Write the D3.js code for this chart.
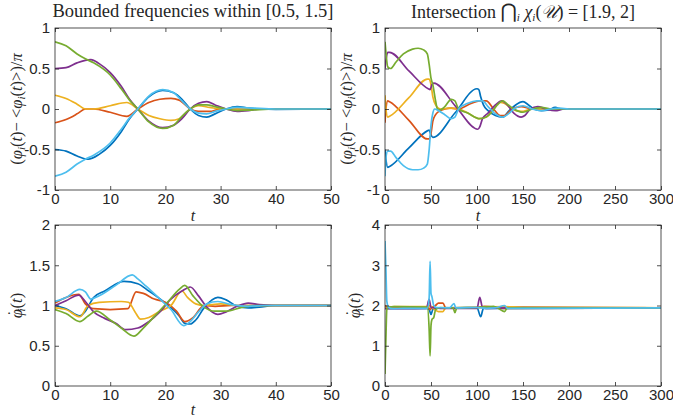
<!DOCTYPE html>
<html>
<head>
<meta charset="utf-8">
<script src="https://cdn.jsdelivr.net/npm/d3@7"></script>
<style>
  body { margin: 0; background: #fff; }
  text { fill: #262626; }
</style>
</head>
<body>
<div id="chart"></div>
<script>
// MATLAB default line colours: blue, orange, yellow, purple, green, light blue
var colors = ["#0072BD", "#D95319", "#EDB120", "#7E2F8E", "#77AC30", "#4DBEEE"];

// ---- top left: phase deviation, t in [0,50]
var tlBlue = [[0,-0.5],[2,-0.52],[4,-0.58],[6,-0.62],[8,-0.56],[10,-0.45],[12,-0.28],[13.5,-0.12],[15,0],[17,0.15],[19.5,0.23],[21.5,0.2],[23,0.12],[24.5,0],[26,-0.08],[27.5,-0.1],[29,-0.06],[31,0],[33,0.03],[35,0.01],[37,0],[40,-0.005],[50,0]];
var tlOrange = [[0,-0.17],[2,-0.13],[4,-0.06],[5.5,0],[7,0],[10,-0.04],[13,-0.09],[15,0],[17,0.08],[19,0.12],[21,0.13],[22.5,0.11],[24.5,0],[26,-0.03],[28,-0.03],[30,0],[35,0],[50,0]];
var tlYellow = [[0,0.17],[2,0.13],[4,0.06],[5.5,0],[7,0],[10,0.04],[13,0.08],[15,0],[17,-0.08],[19,-0.12],[21,-0.14],[22.5,-0.12],[24.5,0],[26,0.04],[28,0.02],[30,0],[35,0],[50,0]];
var tlPurple = [[0,0.5],[2,0.51],[4,0.57],[6.5,0.61],[8,0.56],[10,0.45],[12,0.28],[13.5,0.12],[15,0],[17,-0.15],[19.5,-0.23],[21.5,-0.2],[23,-0.12],[24.5,0],[26,0.07],[27.5,0.09],[29,0.05],[31,0],[33,-0.03],[35,-0.02],[37,0],[50,0]];
var tlGreen = [[0,0.83],[2,0.78],[4,0.68],[5.5,0.62],[7,0.57],[10,0.42],[12,0.25],[13.5,0.11],[15,0],[17,-0.16],[19.5,-0.24],[21.5,-0.2],[23,-0.09],[24.5,0],[26,0.05],[27.5,0.05],[29,0.03],[31,0],[33,-0.02],[36,-0.01],[40,0],[50,0]];
var tlLight = [[0,-0.83],[2,-0.78],[4,-0.68],[5.5,-0.62],[7,-0.57],[10,-0.42],[12,-0.25],[13.5,-0.11],[15,0],[17,0.16],[19.5,0.24],[21.5,0.2],[23,0.1],[24.5,0],[26,-0.05],[27.5,-0.06],[29,-0.03],[31,0],[33,0.02],[36,0.01],[40,0],[50,0]];

// ---- top right: phase deviation, t in [0,300]
var trBlue = [[0,-0.5],[1,-0.62],[3,-0.72],[5,-0.71],[26,-0.48],[46,-0.27],[48,-0.26],[50,-0.32],[52,-0.35],[76,-0.05],[100,0.25],[102,0.24],[104,0.15],[107,0.05],[112,-0.02],[120,-0.08],[128,-0.1],[135,-0.02],[142,0.05],[150,0.09],[156,0.05],[162,0],[170,-0.02],[178,-0.01],[185,0.02],[192,0],[300,0]];
var trOrange = [[0,-0.17],[1,0],[3,0.1],[5,0.09],[26,-0.14],[46,-0.37],[48,-0.37],[50,-0.3],[52,-0.15],[55,-0.07],[60,-0.02],[65,0],[72,0.01],[80,0],[90,0.05],[103,0.1],[110,0.1],[118,0],[125,-0.08],[130,-0.08],[138,0],[148,0.03],[160,0],[300,0]];
var trYellow = [[0,0.17],[1,0],[3,-0.1],[5,-0.09],[26,0.14],[46,0.37],[48,0.37],[50,0.3],[52,0.15],[55,0.05],[60,0],[70,0.01],[80,0],[90,-0.05],[103,-0.12],[110,-0.1],[118,0],[125,0.08],[130,0.07],[138,0],[148,-0.03],[160,0],[300,0]];
var trPurple = [[0,0.5],[1,0.6],[3,0.7],[5,0.7],[26,0.47],[47,0.25],[49,0.24],[51,0.3],[53,0.32],[77,0.03],[101,-0.25],[103,-0.22],[106,-0.12],[112,-0.05],[120,0.05],[127,0.1],[133,0.05],[140,-0.05],[148,-0.1],[152,-0.08],[158,0],[166,0.03],[175,0],[185,-0.02],[195,0],[300,0]];
var trGreen = [[0,0.83],[1,0.7],[3,0.52],[6,0.5],[12,0.58],[20,0.68],[30,0.74],[36,0.75],[42,0.73],[46,0.68],[48,0.55],[50,0.38],[52,0.3],[55,0.1],[57,0],[60,-0.01],[65,0.03],[72,0.12],[76,0.1],[80,0],[90,-0.05],[103,-0.12],[110,-0.1],[116,-0.04],[122,0.05],[128,0.1],[134,0.05],[140,0],[150,-0.04],[160,0],[170,0.02],[180,0],[300,0]];
var trLight = [[0,-0.83],[1,-0.6],[3,-0.52],[6,-0.52],[12,-0.6],[20,-0.7],[30,-0.75],[36,-0.75],[42,-0.73],[46,-0.68],[48,-0.5],[50,-0.2],[52,-0.05],[54,0],[58,-0.02],[65,-0.07],[72,-0.12],[76,-0.1],[80,0],[90,0.07],[100,0.1],[106,0.1],[112,0.03],[120,-0.06],[128,-0.1],[134,-0.06],[140,0],[150,0.04],[160,0],[170,-0.02],[180,0],[190,0.01],[200,0],[300,0]];

// ---- bottom left: frequencies, t in [0,50]
var blBlue = [[0,1],[2,0.96],[4.5,0.87],[5.5,0.93],[7,1.1],[9,1.18],[12.5,1.3],[15,1.27],[17,1.18],[20,1.03],[22.5,0.87],[23.5,0.78],[24.5,0.77],[25.5,0.82],[27,0.97],[29.5,1.1],[31,1.07],[33,0.99],[35,0.97],[37,0.98],[40,1],[50,1]];
var blOrange = [[0,1.03],[2,1.1],[4.3,1.14],[5.5,1.02],[7,0.96],[10,0.95],[13.2,0.96],[14.7,1.17],[16,1.15],[18,1.08],[20,1.04],[22,0.93],[23.5,0.8],[25,0.85],[27,1],[29,0.99],[32,1],[50,1]];
var blYellow = [[0,0.97],[2,0.95],[4.5,0.86],[6,1],[8,1.04],[12,1.05],[13.3,1.04],[14.5,0.92],[15.5,0.83],[17,0.85],[19,0.93],[21,1],[23,1.18],[24,1.1],[25.5,1.02],[27,1],[30,1.02],[33,1],[50,1]];
var blPurple = [[0,1],[2,1.06],[4.3,1.13],[5.5,1.05],[7,0.92],[9,0.84],[11,0.78],[12.8,0.7],[15,0.72],[17,0.8],[19,0.92],[21,1.08],[23,1.18],[24.5,1.23],[26,1.12],[27.5,0.98],[29.5,0.89],[31,0.92],[33,0.99],[35,1.03],[37,1.01],[40,1],[50,1]];
var blGreen = [[0,0.95],[2,0.9],[4.5,0.8],[6,0.87],[7.5,0.93],[10,0.82],[12,0.72],[14.3,0.62],[16,0.72],[18.5,0.9],[20.5,1.05],[22.5,1.2],[23.5,1.25],[25,1.12],[27,0.98],[29,0.93],[31,0.93],[34,0.98],[37,1],[50,1]];
var blLight = [[0,1.05],[2,1.1],[4.5,1.2],[5.5,1.17],[6.5,1.08],[8,1.12],[11,1.25],[14,1.38],[15,1.33],[16.5,1.24],[19,1.08],[21,0.95],[23.3,0.75],[24.5,0.8],[26,0.92],[27.5,1.02],[29.5,1.05],[32,1.01],[35,0.99],[38,1],[50,1]];

// ---- bottom right: frequencies, t in [0,300]
var brBlue = [[0,1.95],[3,1.93],[45,1.93],[48,1.9],[50,1.78],[52,1.9],[60,1.94],[100,1.95],[104,1.72],[107,1.93],[150,1.93],[300,1.94]];
var brOrange = [[0,2],[3,1.97],[10,1.96],[47,1.96],[49,1.9],[51,1.95],[55,2],[58,2.06],[63,2.06],[66,1.94],[100,1.95],[108,1.98],[130,1.93],[300,1.94]];
var brYellow = [[0,1.95],[3,1.96],[10,1.97],[47,1.97],[49,2],[51,1.95],[55,1.88],[58,1.85],[63,1.85],[66,1.94],[100,1.95],[130,1.97],[300,1.94]];
var brPurple = [[0,1.92],[3,1.92],[20,1.92],[45,1.93],[48,2.15],[50,1.95],[60,1.93],[100,1.93],[103,2.2],[106,1.95],[110,1.93],[150,1.95],[300,1.94]];
var brGreen = [[0,0.3],[1,1.2],[2,1.9],[4,1.96],[10,1.97],[46,1.96],[48,1.4],[49,0.75],[50,1.5],[51,1.65],[53,1.7],[55,1.9],[60,1.95],[74,1.94],[76,1.82],[78,1.94],[100,1.95],[118,1.98],[130,1.85],[133,1.94],[300,1.94]];
var brLight = [[0,3.6],[1,2.9],[2,2.1],[4,1.95],[8,1.92],[20,1.93],[46,1.93],[48,2.2],[49,3.1],[50,2.3],[51,2.22],[53,2],[56,1.95],[70,1.94],[75,2.05],[77,1.94],[100,1.95],[110,1.93],[120,1.94],[130,2],[133,1.93],[300,1.94]];

var xTicksShort = [0, 10, 20, 30, 40, 50];
var xTicksLong = [0, 50, 100, 150, 200, 250, 300];
var yTicksPhase = [-1, -0.5, 0, 0.5, 1];
var yTicksFreqL = [0, 0.5, 1, 1.5, 2];
var yTicksFreqR = [0, 1, 2, 3, 4];

var svg = d3.select("#chart").append("svg")
  .attr("width", 673)
  .attr("height", 418)
  .style("font-family", "'Liberation Sans', Arial, sans-serif");

svg.append("rect").attr("width", 673).attr("height", 418).attr("fill", "#fff");

var panels = [
  { id: "tl", left: 55, top: 28, w: 276, h: 162, xd: [0, 50], yd: [-1, 1], xt: xTicksShort, yt: yTicksPhase,
    series: [tlBlue, tlOrange, tlYellow, tlPurple, tlGreen, tlLight], ylab: "phase", ylx: 22, xlabx: 193, xlaby: 221 },
  { id: "tr", left: 385, top: 28, w: 276, h: 162, xd: [0, 300], yd: [-1, 1], xt: xTicksLong, yt: yTicksPhase,
    series: [trBlue, trOrange, trYellow, trPurple, trGreen, trLight], ylab: "phase", ylx: 352, xlabx: 478, xlaby: 221 },
  { id: "bl", left: 55, top: 225, w: 276, h: 161, xd: [0, 50], yd: [0, 2], xt: xTicksShort, yt: yTicksFreqL,
    series: [blBlue, blOrange, blYellow, blPurple, blGreen, blLight], ylab: "freq", ylx: 22, xlabx: 193, xlaby: 415 },
  { id: "br", left: 385, top: 225, w: 276, h: 161, xd: [0, 300], yd: [0, 4], xt: xTicksLong, yt: yTicksFreqR,
    series: [brBlue, brOrange, brYellow, brPurple, brGreen, brLight], ylab: "freq", ylx: 360, xlabx: 0, xlaby: 0 }
];

panels.forEach(function (p) {
  var g = svg.append("g").attr("transform", "translate(" + p.left + "," + p.top + ")");
  var x = d3.scaleLinear().domain(p.xd).range([0, p.w]);
  var y = d3.scaleLinear().domain(p.yd).range([p.h, 0]);

  g.append("clipPath").attr("id", "clip-" + p.id)
    .append("rect").attr("width", p.w).attr("height", p.h);

  var line = d3.line()
    .x(function (d) { return x(d[0]); })
    .y(function (d) { return y(d[1]); })
    .curve(d3.curveMonotoneX);

  g.append("g").attr("clip-path", "url(#clip-" + p.id + ")")
    .selectAll("path")
    .data(p.series)
    .enter()
    .append("path")
    .attr("d", line)
    .attr("fill", "none")
    .attr("stroke", function (d, i) { return colors[i]; })
    .attr("stroke-width", 1.7)
    .attr("stroke-linejoin", "round");

  // inward ticks on all four sides, labels on bottom and left only
  var fmt = function (d) { return String(d); };
  g.append("g").attr("transform", "translate(0," + p.h + ")")
    .call(d3.axisBottom(x).tickValues(p.xt).tickFormat(fmt).tickSizeInner(-4).tickSizeOuter(0).tickPadding(3));
  g.append("g")
    .call(d3.axisLeft(y).tickValues(p.yt).tickFormat(fmt).tickSizeInner(-4).tickSizeOuter(0).tickPadding(5));
  g.append("g").call(d3.axisTop(x).tickValues(p.xt).tickFormat("").tickSizeInner(-4).tickSizeOuter(0));
  g.append("g").attr("transform", "translate(" + p.w + ",0)")
    .call(d3.axisRight(y).tickValues(p.yt).tickFormat("").tickSizeInner(-4).tickSizeOuter(0));

  g.selectAll(".domain").remove();
  g.selectAll(".tick line").attr("stroke", "#262626").attr("stroke-width", 0.8);
  g.selectAll(".tick text").attr("fill", "#262626").style("font-size", "15px")
    .style("font-family", "'Liberation Sans', Arial, sans-serif");

  g.append("rect").attr("width", p.w).attr("height", p.h)
    .attr("fill", "none").attr("stroke", "#262626").attr("stroke-width", 0.8);

  // x label
  if (p.xlaby) {
    svg.append("text")
      .attr("x", p.xlabx).attr("y", p.xlaby)
      .attr("text-anchor", "middle")
      .style("font-family", "'Liberation Serif', serif").style("font-style", "italic").style("font-size", "16px")
      .text("t");
  }

  // y label
  var yl = svg.append("text")
    .attr("transform", "translate(" + p.ylx + "," + (p.top + p.h / 2) + ") rotate(-90)")
    .attr("text-anchor", "middle")
    .style("font-family", "'Liberation Serif', serif").style("font-size", "16.5px");
  if (p.ylab === "phase") {
    yl.append("tspan").text("(");
    yl.append("tspan").style("font-style", "italic").text("φ");
    yl.append("tspan").attr("baseline-shift", "-25%").style("font-style", "italic").style("font-size", "11px").text("i");
    yl.append("tspan").text("(");
    yl.append("tspan").style("font-style", "italic").text("t");
    yl.append("tspan").text(")− <");
    yl.append("tspan").style("font-style", "italic").text("φ");
    yl.append("tspan").attr("baseline-shift", "-25%").style("font-style", "italic").style("font-size", "11px").text("i");
    yl.append("tspan").text("(");
    yl.append("tspan").style("font-style", "italic").text("t");
    yl.append("tspan").text(")>)/");
    yl.append("tspan").style("font-style", "italic").text("π");
  } else {
    yl.append("tspan").style("font-style", "italic").text("φ");
    yl.append("tspan").attr("dx", -7).attr("dy", -3).text("˙");
    yl.append("tspan").attr("dx", -1).attr("dy", 6).style("font-style", "italic").style("font-size", "11px").text("i");
    yl.append("tspan").attr("dy", -3).text("(");
    yl.append("tspan").style("font-style", "italic").text("t");
    yl.append("tspan").text(")");
  }
});

// titles
svg.append("text")
  .attr("x", 193).attr("y", 17)
  .attr("text-anchor", "middle")
  .style("font-family", "'Liberation Serif', serif").style("font-size", "18.5px")
  .text("Bounded frequencies within [0.5, 1.5]");

var t2 = svg.append("text")
  .attr("x", 523).attr("y", 18)
  .attr("text-anchor", "middle")
  .style("font-family", "'Liberation Serif', serif").style("font-size", "18px");
t2.append("tspan").text("Intersection ");
t2.append("tspan").style("font-family", "'DejaVu Sans', sans-serif").style("font-size", "20px").text("⋂");
t2.append("tspan").attr("baseline-shift", "-30%").style("font-style", "italic").style("font-size", "11px").text("i");
t2.append("tspan").text(" ");
t2.append("tspan").style("font-style", "italic").text("χ");
t2.append("tspan").attr("baseline-shift", "-30%").style("font-style", "italic").style("font-size", "11px").text("i");
t2.append("tspan").text("(");
t2.append("tspan").style("font-style", "italic").text("𝒰");
t2.append("tspan").text(") = [1.9, 2]");
</script>
</body>
</html>
